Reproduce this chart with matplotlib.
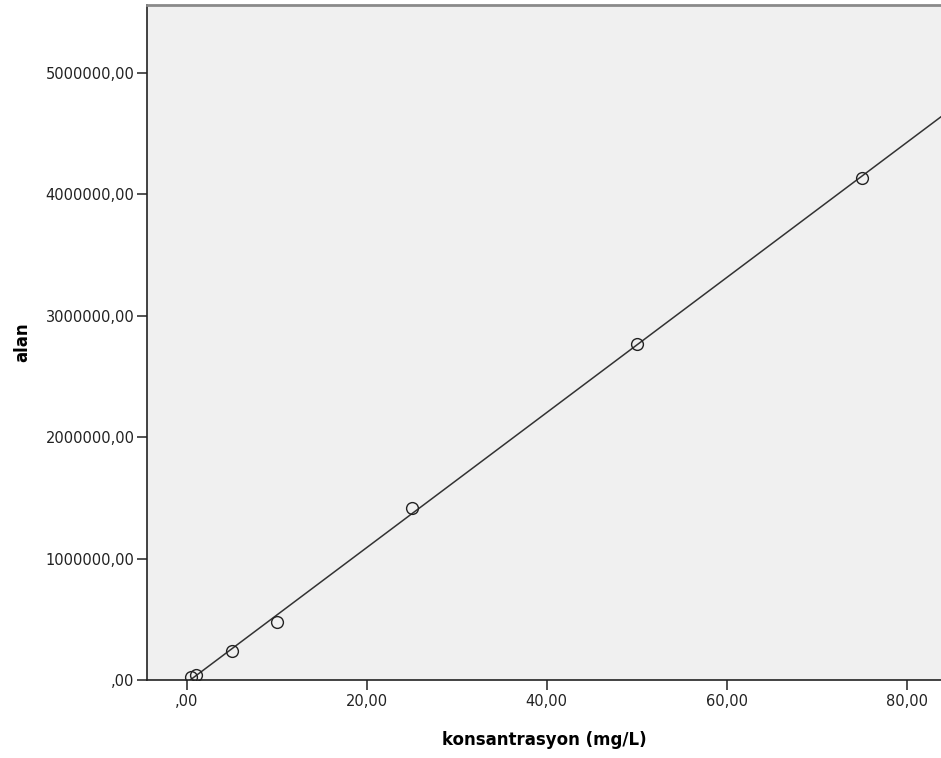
"""SPSS-style calibration curve: peak area (alan) vs. concentration, with linear fit."""
import numpy as np
import matplotlib.pyplot as plt
from matplotlib.ticker import FuncFormatter

# values
konsantrasyon = [0.5, 1.0, 5.0, 10.0, 25.0, 50.0, 75.0]
alan = [27000, 42000, 242000, 476000, 1415000, 2766000, 4138000]
x_ticks = [0, 20, 40, 60, 80]
y_ticks = [0, 1000000, 2000000, 3000000, 4000000, 5000000]

X_MIN, X_MAX = -4.4, 83.8
Y_MIN, Y_MAX = 0, 5560000


def comma_fmt(v, _pos):
    s = f"{v:.2f}".replace(".", ",")
    return s[1:] if s.startswith("0,") else s


fig = plt.figure(figsize=(9.41, 7.58), dpi=100)
ax = fig.add_axes([147 / 941, 1 - 680 / 758, 1 - 147 / 941, (680 - 5) / 758])
ax.set_facecolor("#f0f0f0")

# linear fit drawn across the whole axis
slope, icpt = np.polyfit(konsantrasyon, alan, 1)
xx = np.array([X_MIN, X_MAX])
ax.plot(xx, slope * xx + icpt, color="#333333", lw=1.1, zorder=2)

ax.plot(konsantrasyon, alan, "o", mfc="none", mec="#222222", mew=1.0,
        ms=8.5, zorder=3)

ax.set_xlim(X_MIN, X_MAX)
ax.set_ylim(Y_MIN, Y_MAX)
ax.set_xticks(x_ticks)
ax.set_yticks(y_ticks)
ax.xaxis.set_major_formatter(FuncFormatter(comma_fmt))
ax.yaxis.set_major_formatter(FuncFormatter(comma_fmt))
ax.tick_params(axis="both", direction="out", length=7, width=1.1,
               color="#222222", labelsize=10.5, labelcolor="#222222", pad=2)
ax.tick_params(axis="x", pad=3)

for side in ("left", "bottom"):
    ax.spines[side].set_color("#222222")
    ax.spines[side].set_linewidth(1.2)
ax.spines["top"].set_color("#8a8a8a")
ax.spines["top"].set_linewidth(2.0)
ax.spines["right"].set_visible(False)

ax.set_xlabel("konsantrasyon (mg/L)", fontsize=12, fontweight="bold", labelpad=16)
ax.set_ylabel("alan", fontsize=12, fontweight="bold", labelpad=10)

fig.savefig("out.png", dpi=100)
